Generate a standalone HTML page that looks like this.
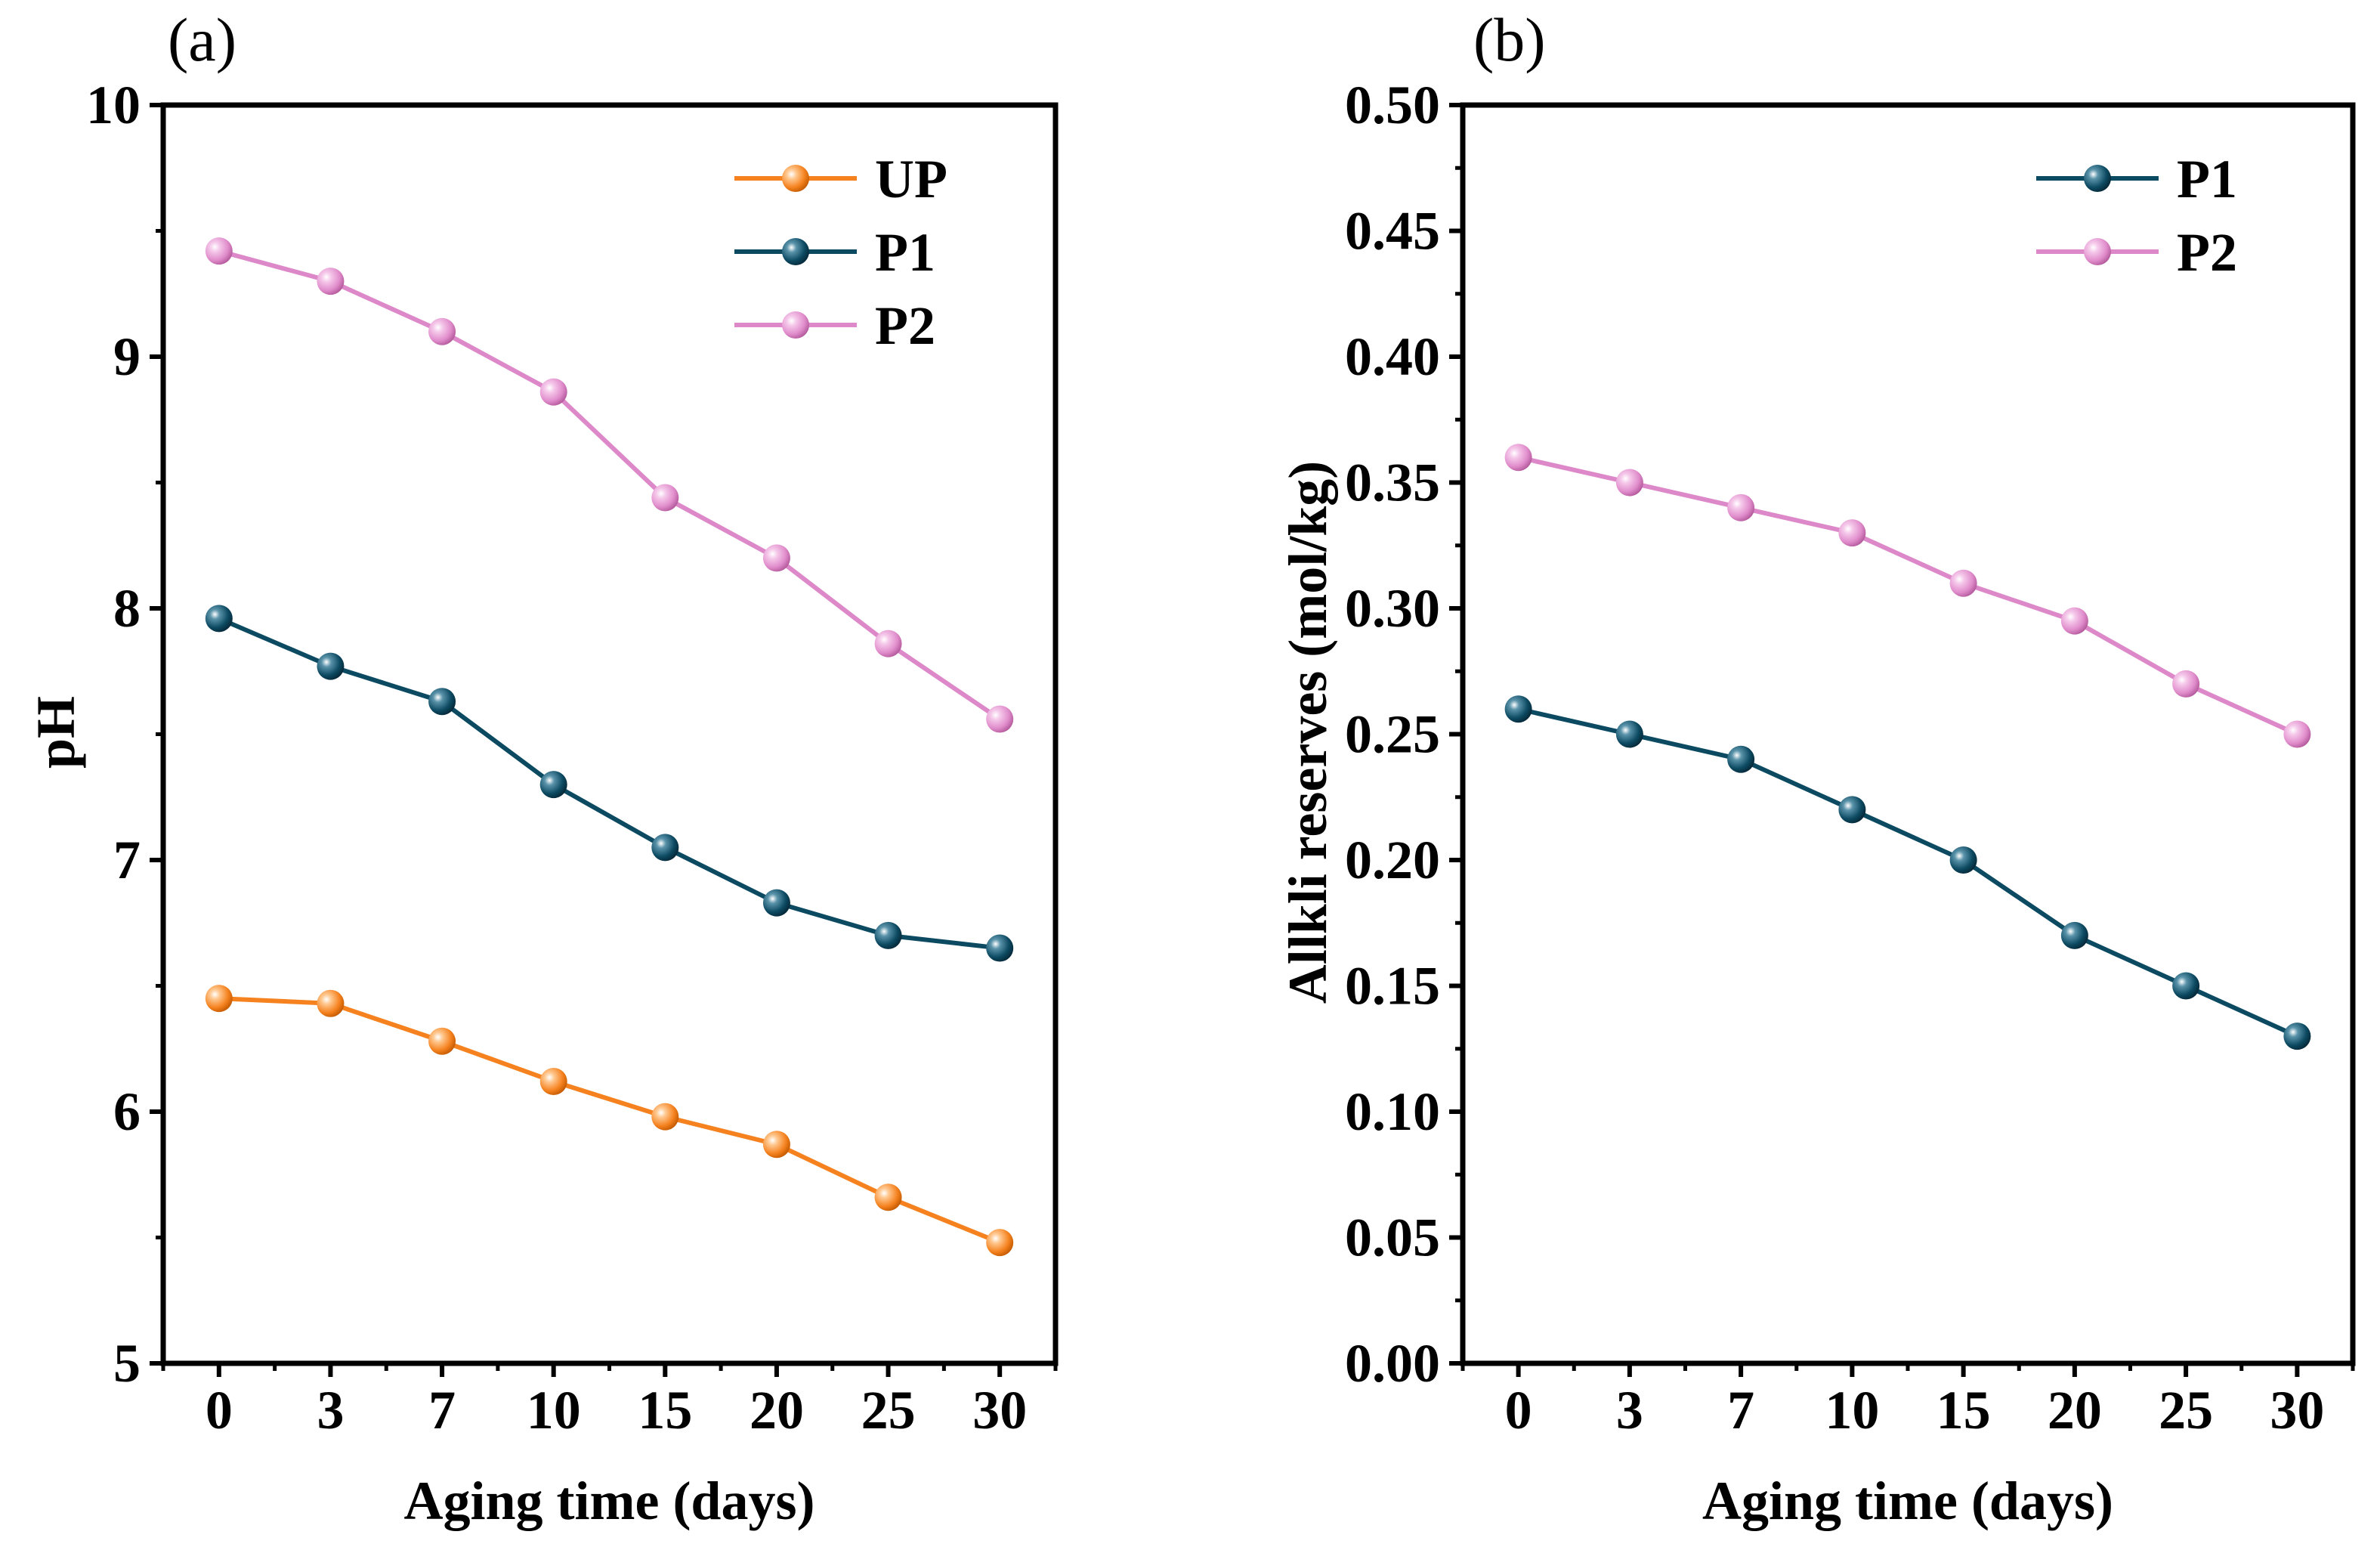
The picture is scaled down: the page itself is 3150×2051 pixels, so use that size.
<!DOCTYPE html>
<html><head><meta charset="utf-8"><style>
html,body{margin:0;padding:0;background:#fff}
svg{display:block}
text{font-family:"Liberation Serif","Times New Roman",serif;fill:#000}
.b{font-weight:bold}
</style></head><body>
<svg id="chart" width="3150" height="2051" viewBox="0 0 3150 2051" xmlns="http://www.w3.org/2000/svg">
<defs>
<radialGradient id="gUP" cx="0.35" cy="0.35" r="0.7"><stop offset="0" stop-color="#fff"/><stop offset="0.25" stop-color="#ffc890"/><stop offset="0.7" stop-color="#f5821f"/><stop offset="1" stop-color="#c45a00"/></radialGradient>
<radialGradient id="gP1" cx="0.35" cy="0.35" r="0.7"><stop offset="0" stop-color="#fff"/><stop offset="0.25" stop-color="#5a93aa"/><stop offset="0.7" stop-color="#0c4a62"/><stop offset="1" stop-color="#062838"/></radialGradient>
<radialGradient id="gP2" cx="0.35" cy="0.35" r="0.7"><stop offset="0" stop-color="#fff"/><stop offset="0.25" stop-color="#f5c8ea"/><stop offset="0.7" stop-color="#e08ccb"/><stop offset="1" stop-color="#b45a9c"/></radialGradient>
</defs>
</svg>
<script>
const categories = ['0','3','7','10','15','20','25','30'];
const aUP = [6.45,6.43,6.28,6.12,5.98,5.87,5.66,5.48];
const aP1 = [7.96,7.77,7.63,7.30,7.05,6.83,6.70,6.65];
const aP2 = [9.42,9.30,9.10,8.86,8.44,8.20,7.86,7.56];
const bP1 = [0.26,0.25,0.24,0.22,0.20,0.17,0.15,0.13];
const bP2 = [0.36,0.35,0.34,0.33,0.31,0.295,0.27,0.25];
const aYTicks = [5,6,7,8,9,10];
const bYTicks = [0,0.05,0.10,0.15,0.20,0.25,0.30,0.35,0.40,0.45,0.50];

const svg = document.getElementById('chart');
const NS = 'http://www.w3.org/2000/svg';
function mk(tag, attrs, parent){const e=document.createElementNS(NS,tag);for(const k in attrs)e.setAttribute(k,attrs[k]);(parent||svg).appendChild(e);return e;}
const colors = {UP:'#f5821f',P1:'#0c4a62',P2:'#dd88c8'};

function panel(o){
  const g = mk('g',{});
  
  
  const L=o.left,R=o.right,T=139,B=1804;
  const xs = i => L + (i+0.5)*(R-L)/categories.length;
  const ys = v => B - (v-o.ymin)/(o.ymax-o.ymin)*(B-T);
  const fr = mk('rect',{x:L,y:T,width:R-L,height:B-T,fill:'none',stroke:'#000','stroke-width':7},g);
  
  
  o.yticks.forEach((v,i)=>{
    const y=ys(v);
    mk('line',{x1:L-18,x2:L,y1:y,y2:y,stroke:'#000','stroke-width':6},g);
    const t=mk('text',{x:L-30,y:y+24,'text-anchor':'end','font-size':72,class:'b'},g);
    t.textContent=o.fmt(v);
    
    
    if(i<o.yticks.length-1){const ym=ys((v+o.yticks[i+1])/2);mk('line',{x1:L-10,x2:L,y1:ym,y2:ym,stroke:'#000','stroke-width':5},g);}
  });
  categories.forEach((c,i)=>{
    const x=xs(i);
    mk('line',{x1:x,x2:x,y1:B,y2:B+18,stroke:'#000','stroke-width':6},g);
    const t=mk('text',{x:x,y:1890,'text-anchor':'middle','font-size':72,class:'b'},g);
    t.textContent=c;
    
    
  });
  for(let i=0;i<=categories.length;i++){const x=L+i*(R-L)/categories.length;mk('line',{x1:x,x2:x,y1:B,y2:B+10,stroke:'#000','stroke-width':5},g);}
  const xt=mk('text',{x:(L+R)/2,y:2010,'text-anchor':'middle','font-size':72,class:'b'},g);
  xt.textContent='Aging time (days)';
  
  
  const yt=mk('text',{x:0,y:0,'text-anchor':'middle','font-size':72,class:'b',transform:`translate(${o.ytx},969) rotate(-90)`},g);
  yt.textContent=o.ytitle;
  
  
  const pl=mk('text',{x:o.labx,y:80,'font-size':82},g);
  pl.textContent=o.label;
  
  
  o.series.forEach((s,si)=>{
    const sg=mk('g',{},g);
    
    
    const pts=s.vals.map((v,i)=>xs(i)+','+ys(v)).join(' ');
    mk('polyline',{points:pts,fill:'none',stroke:colors[s.name],'stroke-width':6},sg);
    s.vals.forEach((v,i)=>{
      const c=mk('circle',{cx:xs(i),cy:ys(v),r:18,fill:'url(#g'+s.name+')'},sg);
      
      
    });
    const ly=236+si*97;
    const lg=mk('g',{},g);
    
    
    mk('line',{x1:o.legx,x2:o.legx+162,y1:ly,y2:ly,stroke:colors[s.name],'stroke-width':6},lg);
    mk('circle',{cx:o.legx+81,cy:ly,r:18,fill:'url(#g'+s.name+')'},lg);
    const lt=mk('text',{x:o.legx+186,y:ly+25,'font-size':72,class:'b'},lg);
    lt.textContent=s.name;
  });
}
panel({id:'ph',left:216,right:1397,ymin:5,ymax:10,yticks:aYTicks,fmt:v=>String(v),
  ytitle:'pH',ytx:98,label:'(a)',labx:222,legx:972,
  series:[{name:'UP',vals:aUP},{name:'P1',vals:aP1},{name:'P2',vals:aP2}]});
panel({id:'alkali',left:1936,right:3114,ymin:0,ymax:0.5,yticks:bYTicks,fmt:v=>v.toFixed(2),
  ytitle:'Allkli reserves (mol/kg)',ytx:1755,label:'(b)',labx:1950,legx:2695,
  series:[{name:'P1',vals:bP1},{name:'P2',vals:bP2}]});
</script>
</body></html>
